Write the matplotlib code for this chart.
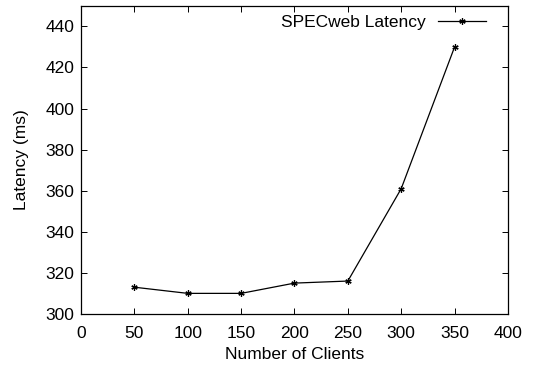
import matplotlib
matplotlib.use("Agg")
import matplotlib.pyplot as plt

clients = [50, 100, 150, 200, 250, 300, 350]
latency = [313, 310, 310, 315, 316, 361, 430]
xticks = [0, 50, 100, 150, 200, 250, 300, 350, 400]
yticks = [300, 320, 340, 360, 380, 400, 420, 440]

plt.rcParams['font.family'] = ['Liberation Sans', 'DejaVu Sans']
plt.rcParams['font.size'] = 12.5

fig = plt.figure(figsize=(5.33, 3.68), dpi=100)
ax = fig.add_axes([0.152, 0.147, 0.801, 0.837])

ax.plot(clients, latency, color='black', lw=0.9, marker=(6, 2, 0),
        markersize=4.5, markeredgewidth=0.9, label='SPECweb Latency')

ax.set_xlim(0, 400)
ax.set_ylim(300, 450)
ax.set_xticks(xticks)
ax.set_yticks(yticks)
ax.tick_params(direction='in', top=True, right=True, length=4, width=0.7)
ax.tick_params(axis='x', pad=9)
ax.tick_params(axis='y', pad=5)
for s in ax.spines.values():
    s.set_linewidth(0.9)

ax.set_xlabel('Number of Clients', labelpad=4)
ax.set_ylabel('Latency (ms)', labelpad=12)

ax.legend(loc='upper right', bbox_to_anchor=(0.948, 0.972), frameon=False,
          markerfirst=False, numpoints=1, handlelength=2.75,
          borderaxespad=0, handletextpad=0.7, borderpad=0)

fig.savefig('out.png', dpi=100)
